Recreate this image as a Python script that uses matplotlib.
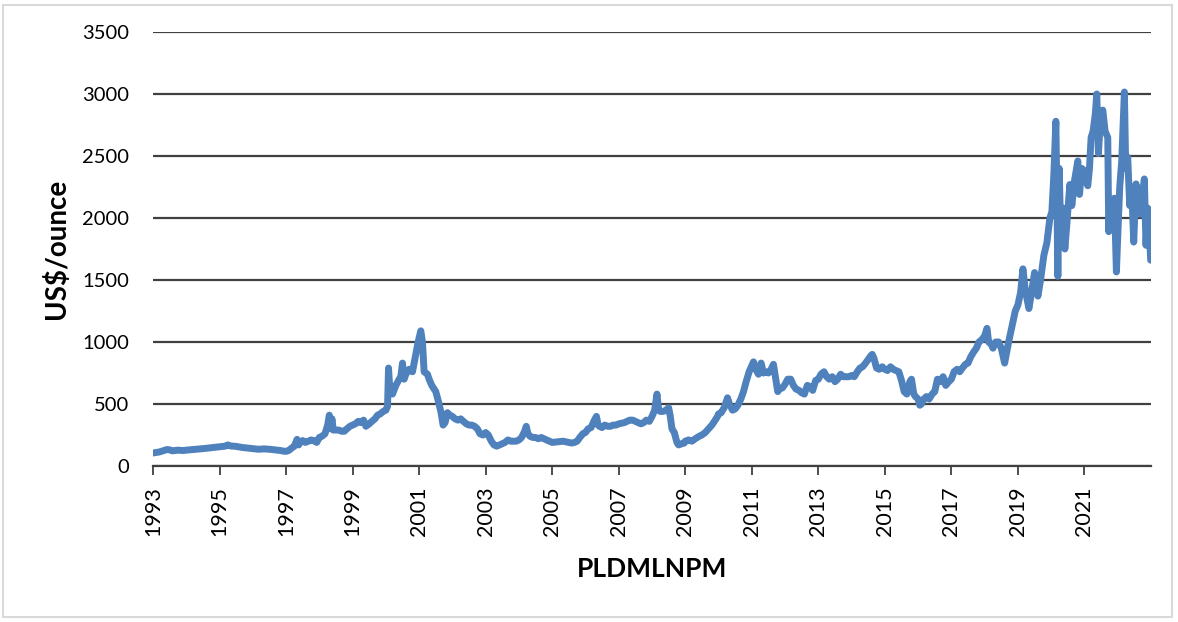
import matplotlib
matplotlib.use("Agg")
import matplotlib.pyplot as plt
from matplotlib.patches import Rectangle

# ---- data (fractional year, US$/ounce) ----
years_1993_1996 = [1993.0, 1993.08, 1993.17, 1993.25, 1993.33, 1993.42, 1993.5, 1993.58, 1993.67, 1993.75, 1993.83, 1993.92,
                   1994.0, 1994.17, 1994.33, 1994.5, 1994.67, 1994.83, 1994.92,
                   1995.0, 1995.17, 1995.25, 1995.33, 1995.5, 1995.67, 1995.83,
                   1996.0, 1996.17, 1996.33, 1996.5, 1996.67, 1996.83, 1996.92]
values_1993_1996 = [105, 108, 112, 118, 125, 133, 130, 122, 125, 128, 126, 125,
                    128, 132, 135, 140, 145, 150, 152,
                    155, 160, 170, 162, 158, 150, 145,
                    140, 135, 138, 135, 130, 125, 120]

years_1997_2002 = [1997.0, 1997.08, 1997.17, 1997.25, 1997.33, 1997.38, 1997.42, 1997.5, 1997.58, 1997.67, 1997.75, 1997.83, 1997.92,
                   1998.0, 1998.08, 1998.17, 1998.25, 1998.30, 1998.33, 1998.38, 1998.42, 1998.5, 1998.58, 1998.67, 1998.75, 1998.83, 1998.92,
                   1999.0, 1999.08, 1999.17, 1999.25, 1999.33, 1999.4, 1999.5, 1999.58, 1999.67, 1999.75, 1999.83, 1999.92,
                   2000.0, 2000.05, 2000.08, 2000.10, 2000.13, 2000.2, 2000.3, 2000.4, 2000.45, 2000.5, 2000.55, 2000.6, 2000.7, 2000.8, 2000.9, 2000.97,
                   2001.05, 2001.1, 2001.15, 2001.25, 2001.3, 2001.38, 2001.45, 2001.5, 2001.58, 2001.66, 2001.72, 2001.78, 2001.85, 2001.92,
                   2002.0, 2002.08, 2002.17, 2002.25, 2002.33, 2002.42, 2002.5, 2002.58, 2002.67, 2002.75, 2002.83, 2002.92]
values_1997_2002 = [118, 125, 145, 160, 215, 170, 190, 205, 190, 200, 210, 205, 190,
                    230, 240, 260, 330, 410, 300, 380, 290, 290, 290, 280, 280, 300, 320,
                    330, 340, 360, 350, 370, 320, 340, 360, 380, 410, 420, 440,
                    450, 480, 790, 700, 600, 580, 650, 700, 720, 830, 700, 740, 780, 760, 900, 1000,
                    1090, 1000, 760, 740, 700, 650, 620, 600, 520, 430, 330, 350, 430, 410,
                    400, 380, 370, 380, 360, 340, 330, 330, 320, 300, 260, 250]

years_2003_2009 = [2003.0, 2003.08, 2003.17, 2003.25, 2003.33, 2003.42, 2003.5, 2003.58, 2003.67, 2003.75, 2003.83, 2003.92,
                   2004.0, 2004.08, 2004.17, 2004.22, 2004.27, 2004.33, 2004.42, 2004.5, 2004.58, 2004.67, 2004.75, 2004.83, 2004.92,
                   2005.0, 2005.17, 2005.33, 2005.5, 2005.58, 2005.67, 2005.75, 2005.83, 2005.92,
                   2006.0, 2006.08, 2006.17, 2006.25, 2006.33, 2006.38, 2006.42, 2006.5, 2006.58, 2006.67, 2006.75, 2006.83, 2006.92,
                   2007.0, 2007.17, 2007.33, 2007.42, 2007.5, 2007.58, 2007.67, 2007.75, 2007.83, 2007.92,
                   2008.0, 2008.08, 2008.15, 2008.2, 2008.25, 2008.33, 2008.42, 2008.5, 2008.55, 2008.6, 2008.67, 2008.75, 2008.8, 2008.9, 2008.97,
                   2009.0, 2009.1, 2009.2, 2009.3, 2009.42, 2009.5, 2009.6, 2009.7, 2009.8, 2009.9, 2009.97]
values_2003_2009 = [270, 250, 200, 170, 160, 170, 180, 190, 210, 200, 200, 200,
                    210, 230, 280, 320, 260, 240, 230, 230, 220, 230, 220, 210, 200,
                    190, 195, 200, 190, 185, 190, 200, 230, 260,
                    270, 300, 310, 360, 400, 330, 320, 310, 330, 320, 320, 330, 330,
                    340, 350, 370, 370, 360, 350, 340, 350, 370, 360,
                    400, 450, 580, 450, 440, 440, 450, 470, 400, 300, 270, 190, 170, 180, 185,
                    200, 210, 200, 220, 240, 250, 270, 300, 330, 370, 400]

years_2010_2016 = [2010.0, 2010.08, 2010.17, 2010.27, 2010.33, 2010.42, 2010.5, 2010.58, 2010.67, 2010.75, 2010.83, 2010.92, 2010.97,
                   2011.05, 2011.12, 2011.2, 2011.28, 2011.35, 2011.42, 2011.5, 2011.58, 2011.65, 2011.72, 2011.78, 2011.83, 2011.92,
                   2012.0, 2012.08, 2012.17, 2012.25, 2012.33, 2012.42, 2012.5, 2012.58, 2012.67, 2012.75, 2012.83, 2012.92,
                   2013.0, 2013.08, 2013.17, 2013.25, 2013.33, 2013.42, 2013.5, 2013.58, 2013.67, 2013.75, 2013.83, 2013.92,
                   2014.0, 2014.08, 2014.17, 2014.25, 2014.33, 2014.42, 2014.5, 2014.58, 2014.62, 2014.67, 2014.75, 2014.83, 2014.92,
                   2015.0, 2015.08, 2015.17, 2015.25, 2015.33, 2015.42, 2015.5, 2015.58, 2015.66, 2015.7, 2015.75, 2015.8, 2015.87, 2015.92,
                   2016.0, 2016.05, 2016.1, 2016.17, 2016.25, 2016.33, 2016.42, 2016.5, 2016.58, 2016.67, 2016.75, 2016.83, 2016.92]
values_2010_2016 = [420, 430, 470, 550, 500, 450, 460, 490, 540, 600, 680, 760, 790,
                    840, 780, 740, 830, 750, 760, 750, 780, 820, 700, 600, 620, 630,
                    660, 700, 700, 650, 620, 610, 590, 580, 650, 640, 610, 690,
                    700, 740, 760, 720, 700, 720, 680, 700, 740, 720, 720, 720,
                    730, 720, 760, 790, 800, 830, 860, 890, 900, 870, 790, 780, 800,
                    780, 770, 800, 780, 770, 760, 690, 600, 580, 620, 680, 700, 580, 560,
                    540, 490, 500, 540, 560, 540, 580, 600, 700, 680, 720, 650, 680]

years_2017_2018 = [2017.0, 2017.08, 2017.17, 2017.25, 2017.33, 2017.42, 2017.5, 2017.58, 2017.67, 2017.75, 2017.83, 2017.92,
                   2018.0, 2018.07, 2018.12, 2018.2, 2018.25, 2018.33, 2018.42, 2018.5, 2018.6, 2018.65, 2018.72, 2018.8, 2018.92]
values_2017_2018 = [700, 760, 780, 760, 790, 820, 830, 880, 920, 950, 1000, 1020,
                    1050, 1110, 1000, 980, 950, 1000, 1000, 950, 830, 900, 1000, 1100, 1250]

years_2019_2022 = [2019.0, 2019.08, 2019.15, 2019.22, 2019.33, 2019.42, 2019.5, 2019.6, 2019.68, 2019.78, 2019.87, 2019.96,
                   2020.02, 2020.08, 2020.14, 2020.17, 2020.2, 2020.24, 2020.28, 2020.35, 2020.41, 2020.47, 2020.56, 2020.62,
                   2020.7, 2020.8, 2020.85, 2020.92,
                   2021.0, 2021.05, 2021.1, 2021.15, 2021.2, 2021.26, 2021.33, 2021.37, 2021.42, 2021.48, 2021.55, 2021.62,
                   2021.7, 2021.73, 2021.78, 2021.83, 2021.9, 2021.96,
                   2022.0, 2022.06, 2022.12, 2022.2, 2022.24, 2022.3, 2022.36, 2022.42, 2022.48, 2022.55, 2022.62, 2022.7,
                   2022.75, 2022.8, 2022.85, 2022.9, 2022.95, 2022.99]
values_2019_2022 = [1300, 1400, 1590, 1420, 1270, 1420, 1560, 1370, 1500, 1700, 1800, 2000,
                    2050, 2350, 2780, 2200, 1530, 2400, 1950, 2080, 1750, 1950, 2270, 2100,
                    2300, 2460, 2190, 2400,
                    2380, 2300, 2260, 2400, 2650, 2700, 2850, 3000, 2520, 2800, 2870, 2700,
                    2650, 1890, 2150, 1950, 2160, 1565,
                    1850, 2250, 2460, 3016, 2400, 2490, 2100, 2250, 1806, 2275, 2100, 2030,
                    2200, 2315, 1780, 2080, 1900, 1660]

x_ticks = [1993, 1995, 1997, 1999, 2001, 2003, 2005, 2007, 2009, 2011, 2013, 2015, 2017, 2019, 2021]
y_ticks = [0, 500, 1000, 1500, 2000, 2500, 3000, 3500]
series_name = "PLDMLNPM"
y_title = "US$/ounce"

years = (years_1993_1996 + years_1997_2002 + years_2003_2009 + years_2010_2016
         + years_2017_2018 + years_2019_2022)
values = (values_1993_1996 + values_1997_2002 + values_2003_2009 + values_2010_2016
          + values_2017_2018 + values_2019_2022)

# ---- figure ----
W, H = 1178, 622
fig = plt.figure(figsize=(W / 100, H / 100), dpi=100)
fig.patch.set_facecolor("white")
fig.patches.append(Rectangle((3 / W, 5 / H), 1169 / W, 612 / H, transform=fig.transFigure,
                             fill=False, edgecolor="#d9d9d9", linewidth=1.5))

ax = fig.add_axes([153 / W, 1 - 466 / H, 998 / W, 434 / H])
grid_c = "#404040"
ax.plot(years, values, color="#4f81bd", linewidth=5.0, solid_joinstyle="round",
        solid_capstyle="round", zorder=3)

ax.set_xlim(1993, 2023)
ax.set_ylim(0, 3500)
ax.set_yticks(y_ticks)
ax.set_yticklabels([str(v) for v in y_ticks])
ax.set_xticks(x_ticks)
ax.set_xticklabels([str(v) for v in x_ticks], rotation=90)

for s in ["left", "right", "top"]:
    ax.spines[s].set_visible(False)
ax.spines["bottom"].set_color(grid_c)
ax.spines["bottom"].set_linewidth(1.6)
ax.spines["bottom"].set_zorder(2)

ax.yaxis.grid(True, color=grid_c, linewidth=1.6, zorder=1)
ax.set_axisbelow(True)
ax.tick_params(axis="y", length=0, pad=17, labelsize=14.5, labelcolor="black")
ax.tick_params(axis="x", length=6.5, width=1.3, color=grid_c, direction="out", pad=8,
               labelsize=15.5, labelcolor="black")
for lab in ax.get_xticklabels() + ax.get_yticklabels():
    lab.set_fontfamily("Lato")

ax.set_xlabel(series_name, fontsize=19, fontweight="bold", fontfamily="Lato", labelpad=15)
ax.set_ylabel(y_title, fontsize=20, fontweight="bold", fontfamily="Lato", labelpad=9)

fig.savefig("out.png", dpi=100, facecolor="white")
